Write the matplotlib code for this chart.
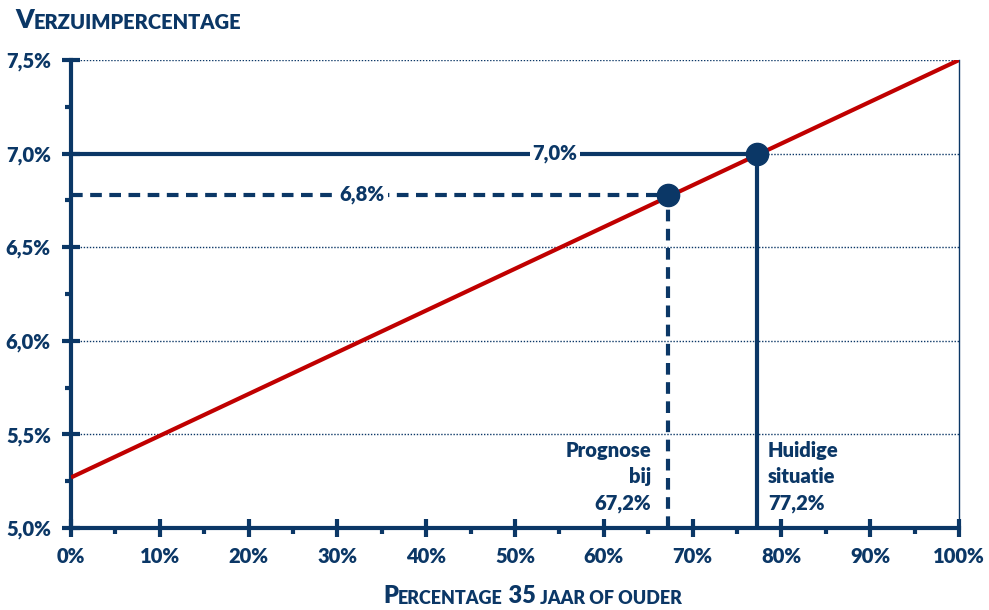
import matplotlib.pyplot as plt
from matplotlib.ticker import MultipleLocator, FuncFormatter

plt.rcParams['font.family'] = ['Lato', 'DejaVu Sans']
plt.rcParams['font.weight'] = 'heavy'

navy = '#0b3766'
red = '#c00000'

# data
line_x = [0, 100]
line_y = [5.27, 7.5]
prog_x, prog_y = 67.2, 6.78
cur_x, cur_y = 77.2, 7.0
prog_label = '6,8%'
cur_label = '7,0%'
prog_text = 'Prognose\nbij\n67,2%'
cur_text = 'Huidige\nsituatie\n77,2%'

# small caps titles: big first letter, then smaller capitals
runs_title = [('V', 19), ('ERZUIMPERCENTAGE', 14.5)]
runs_xlabel = [('P', 17), ('ERCENTAGE', 13), (' 35', 17), (' JAAR OF OUDER', 13)]


def write_runs(fig, ax, x, y, runs):
    # each run is placed right after the previous one
    t = fig.text(x, y, runs[0][0], fontsize=runs[0][1], color=navy,
                 ha='left', va='baseline')
    for txt, size in runs[1:]:
        t = ax.annotate(txt, xy=(1, 0), xycoords=t, fontsize=size, color=navy,
                        ha='left', va='bottom', annotation_clip=False)


fig = plt.figure(figsize=(9.89, 6.10), dpi=100)
ax = fig.add_axes([0.0718, 0.1344, 0.8979, 0.7672])

ax.plot(line_x, line_y, color=red, lw=3, zorder=3, solid_capstyle='butt')

# current situation, solid
ax.plot([0, cur_x], [cur_y, cur_y], color=navy, lw=3, zorder=2)
ax.plot([cur_x, cur_x], [5.0, cur_y], color=navy, lw=3, zorder=2)
# prognosis, dashed
ax.plot([0, prog_x], [prog_y, prog_y], color=navy, lw=3, zorder=2,
        dashes=(2.8, 1.8))
ax.plot([prog_x, prog_x], [5.0, prog_y], color=navy, lw=3, zorder=2,
        dashes=(2.8, 1.8))

ax.plot([prog_x, cur_x], [prog_y, cur_y], 'o', color=navy, ms=16, zorder=4,
        clip_on=False)

ax.text(54.5, cur_y, cur_label, ha='center', va='center', color=navy,
        fontsize=14.5, zorder=5, bbox=dict(fc='white', ec='none', pad=2))
ax.text(32.8, prog_y, prog_label, ha='center', va='center', color=navy,
        fontsize=14.5, zorder=5, bbox=dict(fc='white', ec='none', pad=2))

ax.text(65.3, 5.08, prog_text, ha='right', va='bottom',
        multialignment='right', color=navy, fontsize=14.5, linespacing=1.45,
        zorder=5, bbox=dict(fc='white', ec='none', pad=0))
ax.text(78.5, 5.08, cur_text, ha='left', va='bottom',
        multialignment='left', color=navy, fontsize=14.5, linespacing=1.45,
        zorder=5, bbox=dict(fc='white', ec='none', pad=0))

ax.set_xlim(0, 100)
ax.set_ylim(5.0, 7.5)
ax.xaxis.set_major_locator(MultipleLocator(10))
ax.xaxis.set_minor_locator(MultipleLocator(5))
ax.yaxis.set_major_locator(MultipleLocator(0.5))
ax.yaxis.set_minor_locator(MultipleLocator(0.25))
ax.xaxis.set_major_formatter(FuncFormatter(lambda v, p: '%d%%' % round(v)))
ax.yaxis.set_major_formatter(FuncFormatter(lambda v, p: ('%.1f%%' % v).replace('.', ',')))

ax.yaxis.grid(True, which='major', color=navy, lw=1, dashes=(1, 1.2), zorder=1)
ax.set_axisbelow(True)

ax.tick_params(which='major', direction='inout', length=13, width=3,
               color=navy, labelcolor=navy, labelsize=14.5)
ax.tick_params(axis='y', which='major', pad=8)
ax.tick_params(axis='x', which='major', pad=7)
ax.tick_params(which='minor', direction='out', length=4, width=3, color=navy)

ax.spines['top'].set_visible(False)
ax.spines['right'].set_color(navy)
ax.spines['right'].set_linewidth(1)
for s in ['left', 'bottom']:
    ax.spines[s].set_color(navy)
    ax.spines[s].set_linewidth(3)

write_runs(fig, ax, 15 / 989, 1 - 28 / 610, runs_title)
write_runs(fig, ax, 383 / 989, 1 - 603 / 610, runs_xlabel)

fig.savefig('out.png', dpi=100)
